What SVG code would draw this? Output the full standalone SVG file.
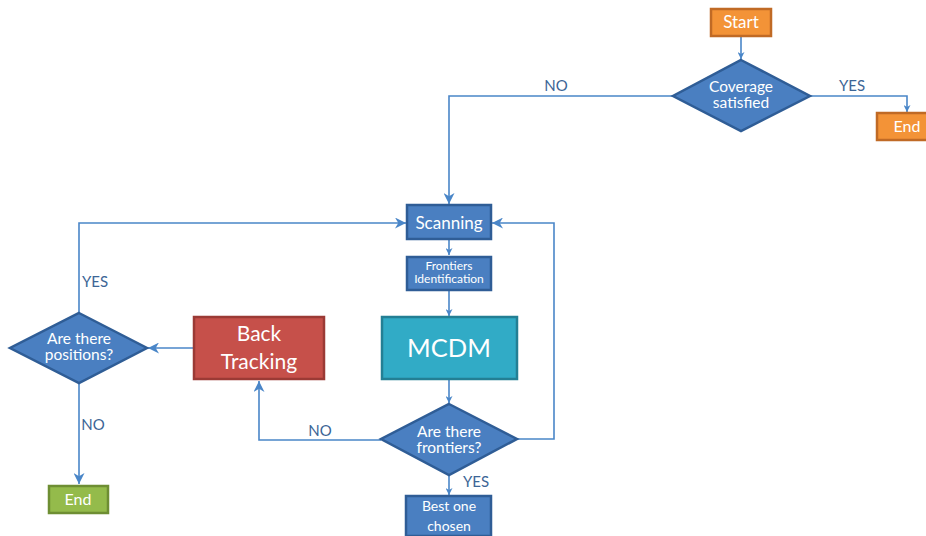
<svg xmlns="http://www.w3.org/2000/svg" width="926" height="536" viewBox="0 0 926 536">
<style>
.t{font-family:Lato,"Liberation Sans",sans-serif;fill:#fff;text-anchor:middle}
.lbl{font-family:Lato,"Liberation Sans",sans-serif;fill:#3C6596;font-size:15px;text-anchor:middle}
.blue{fill:#4A7FC1;stroke:#2F5D96;stroke-width:2.5}
.orange{fill:#F39337;stroke:#C06A25;stroke-width:2.5}
.green{fill:#94BB4B;stroke:#6E8E33;stroke-width:2.5}
.red{fill:#C6504A;stroke:#9B3A35;stroke-width:2.5}
.cyan{fill:#31ABC6;stroke:#237F94;stroke-width:2.5}
.c{fill:none;stroke:#4A86C8;stroke-width:1.6}
</style>
<defs>
<marker id="a" viewBox="0 0 10 10" refX="10" refY="5" markerWidth="7" markerHeight="7" markerUnits="userSpaceOnUse" orient="auto">
<path d="M0,0 L10,5 L0,10 L3,5 z" fill="#4A86C8"/>
</marker>
<marker id="b" viewBox="0 0 10 10" refX="10" refY="5" markerWidth="11" markerHeight="11" markerUnits="userSpaceOnUse" orient="auto">
<path d="M0,0 L10,5 L0,10 L3,5 z" fill="#4A86C8"/>
</marker>
</defs>
<g id="connectors">
<path class="c" d="M741,36 V59" marker-end="url(#a)"/>
<path class="c" d="M810,96 H907 V112" marker-end="url(#a)"/>
<path class="c" d="M673,96 H449 V204" marker-end="url(#b)"/>
<path class="c" d="M449,239 V255" marker-end="url(#a)"/>
<path class="c" d="M449,290 V316" marker-end="url(#a)"/>
<path class="c" d="M449,379 V403" marker-end="url(#a)"/>
<path class="c" d="M517,439 H554 V223 H492" marker-end="url(#b)"/>
<path class="c" d="M381,440 H259 V381" marker-end="url(#b)"/>
<path class="c" d="M194,348 H148" marker-end="url(#b)"/>
<path class="c" d="M79,313 V223 H406" marker-end="url(#b)"/>
<path class="c" d="M79,383 V484" marker-end="url(#b)"/>
<path class="c" d="M449,475 V495" marker-end="url(#a)"/>
<text class="lbl" x="556" y="91">NO</text>
<text class="lbl" x="852" y="91">YES</text>
<text class="lbl" x="95" y="287">YES</text>
<text class="lbl" x="93" y="430">NO</text>
<text class="lbl" x="320" y="436">NO</text>
<text class="lbl" x="476" y="487">YES</text>
</g>
<g id="start">
<rect class="orange" x="711" y="9" width="60" height="27"/>
<text class="t" x="741" y="28" font-size="17">Start</text>
</g>
<g id="coverage">
<polygon class="blue" points="741,60 810,96 741,131 673,96"/>
<text class="t" x="741" y="92" font-size="15.5">Coverage</text>
<text class="t" x="741" y="108" font-size="15.5">satisfied</text>
</g>
<g id="end1">
<rect class="orange" x="877" y="113" width="60" height="27"/>
<text class="t" x="907" y="132" font-size="16">End</text>
</g>
<g id="scanning">
<rect class="blue" x="407" y="205" width="84" height="34"/>
<text class="t" x="449" y="229" font-size="17">Scanning</text>
</g>
<g id="frontiers">
<rect class="blue" x="407" y="257" width="84" height="33"/>
<text class="t" x="449" y="270" font-size="12">Frontiers</text>
<text class="t" x="449" y="283" font-size="12">Identification</text>
</g>
<g id="mcdm">
<rect class="cyan" x="382" y="317" width="135" height="62"/>
<text class="t" x="449" y="357" font-size="25.5">MCDM</text>
</g>
<g id="frontiers-q">
<polygon class="blue" points="449,404 517,439 449,475 381,439"/>
<text class="t" x="449" y="437" font-size="15.5">Are there</text>
<text class="t" x="449" y="453" font-size="15.5">frontiers?</text>
</g>
<g id="best">
<rect class="blue" x="406" y="496" width="85" height="40"/>
<text class="t" x="449" y="511" font-size="14">Best one</text>
<text class="t" x="449" y="531" font-size="14">chosen</text>
</g>
<g id="backtracking">
<rect class="red" x="194" y="317" width="130" height="62"/>
<text class="t" x="259" y="341" font-size="21">Back</text>
<text class="t" x="259" y="369" font-size="21">Tracking</text>
</g>
<g id="positions-q">
<polygon class="blue" points="79,313 147,348 79,383 10,348"/>
<text class="t" x="79" y="344" font-size="15.5">Are there</text>
<text class="t" x="79" y="360" font-size="15.5">positions?</text>
</g>
<g id="end2">
<rect class="green" x="49" y="486" width="59" height="27"/>
<text class="t" x="78" y="505" font-size="16">End</text>
</g>
</svg>
